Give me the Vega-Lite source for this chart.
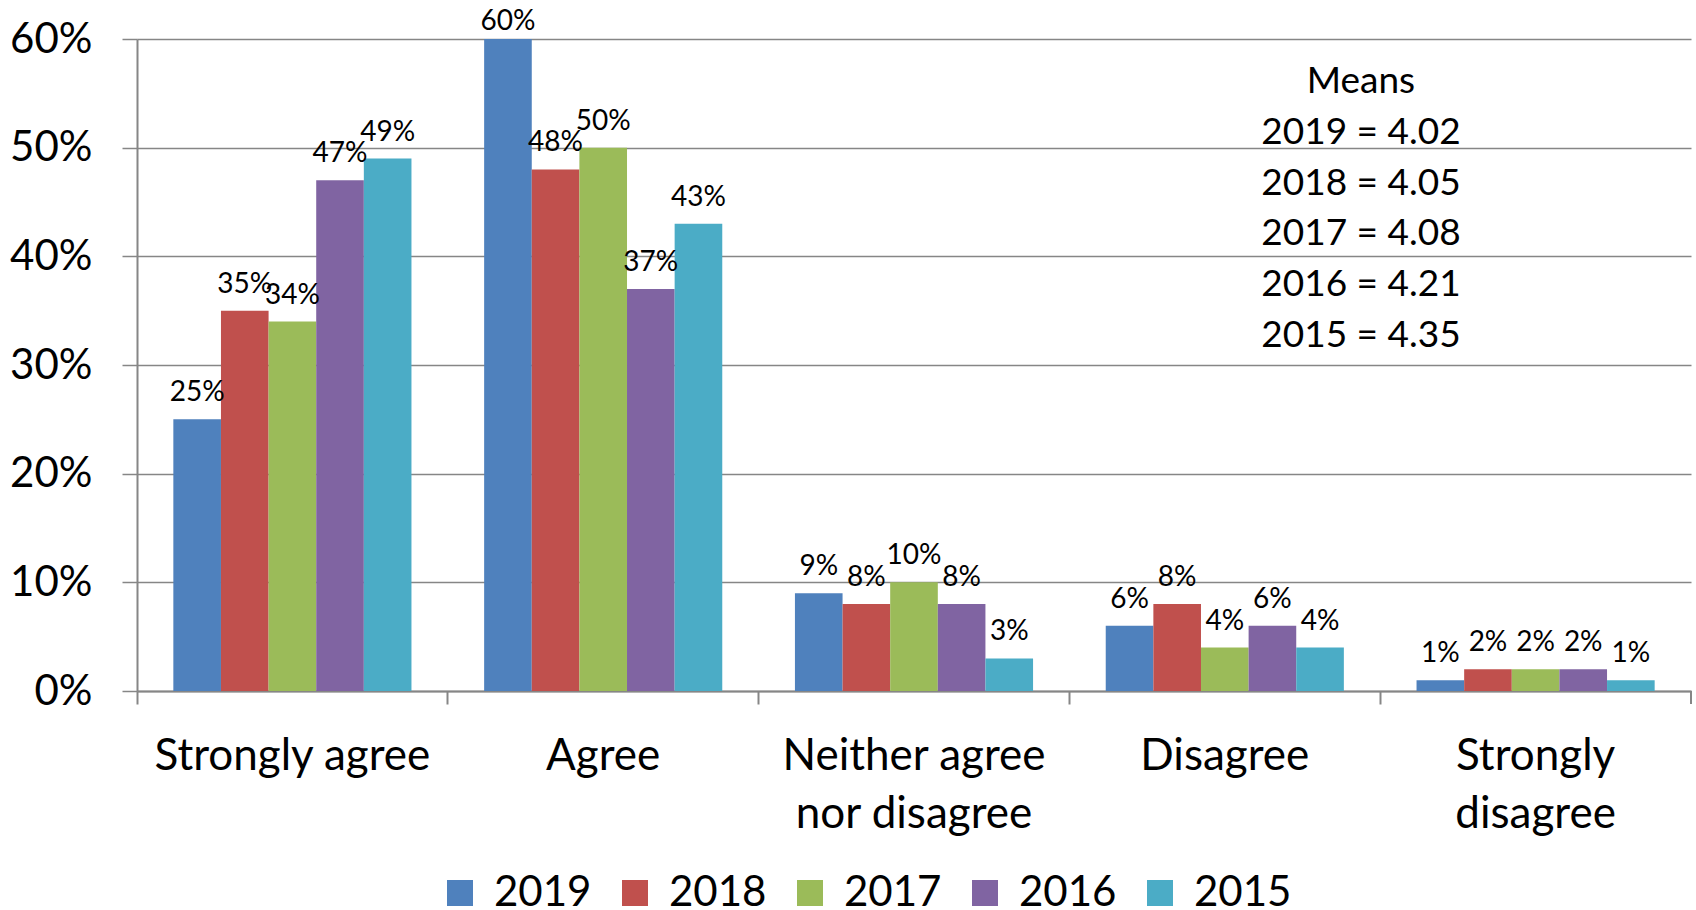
{
  "$schema": "https://vega.github.io/schema/vega-lite/v6.json",
  "width": 1554,
  "height": 652,
  "autosize": "none",
  "padding": {"left": 137, "top": 39, "right": 5, "bottom": 219},
  "background": "white",
  "config": {
    "font": "Lato",
    "view": {"stroke": null},
    "axis": {"labelColor": "black", "labelFont": "Lato"},
    "legend": {"labelColor": "black", "labelFont": "Lato"}
  },
  "layer": [
    {
      "data": {
        "values": [
          {"response": "Strongly agree", "year": "2019", "pct": 0.25},
          {"response": "Strongly agree", "year": "2018", "pct": 0.35},
          {"response": "Strongly agree", "year": "2017", "pct": 0.34},
          {"response": "Strongly agree", "year": "2016", "pct": 0.47},
          {"response": "Strongly agree", "year": "2015", "pct": 0.49},
          {"response": "Agree", "year": "2019", "pct": 0.60},
          {"response": "Agree", "year": "2018", "pct": 0.48},
          {"response": "Agree", "year": "2017", "pct": 0.50},
          {"response": "Agree", "year": "2016", "pct": 0.37},
          {"response": "Agree", "year": "2015", "pct": 0.43},
          {"response": "Neither agree nor disagree", "year": "2019", "pct": 0.09},
          {"response": "Neither agree nor disagree", "year": "2018", "pct": 0.08},
          {"response": "Neither agree nor disagree", "year": "2017", "pct": 0.10},
          {"response": "Neither agree nor disagree", "year": "2016", "pct": 0.08},
          {"response": "Neither agree nor disagree", "year": "2015", "pct": 0.03},
          {"response": "Disagree", "year": "2019", "pct": 0.06},
          {"response": "Disagree", "year": "2018", "pct": 0.08},
          {"response": "Disagree", "year": "2017", "pct": 0.04},
          {"response": "Disagree", "year": "2016", "pct": 0.06},
          {"response": "Disagree", "year": "2015", "pct": 0.04},
          {"response": "Strongly disagree", "year": "2019", "pct": 0.01},
          {"response": "Strongly disagree", "year": "2018", "pct": 0.02},
          {"response": "Strongly disagree", "year": "2017", "pct": 0.02},
          {"response": "Strongly disagree", "year": "2016", "pct": 0.02},
          {"response": "Strongly disagree", "year": "2015", "pct": 0.01}
        ]
      },
      "encoding": {
        "x": {
          "field": "response",
          "type": "nominal",
          "sort": ["Strongly agree", "Agree", "Neither agree nor disagree", "Disagree", "Strongly disagree"],
          "scale": {"paddingInner": 0, "paddingOuter": 0},
          "axis": {
            "title": null,
            "bandPosition": 0,
            "labelAngle": 0,
            "labelFontSize": 44,
            "labelPadding": 30,
            "labelLineHeight": 58,
            "labelLimit": 0,
            "labelOverlap": false,
            "labelBound": false,
            "labelExpr": "datum.label == 'Neither agree nor disagree' ? ['Neither agree', 'nor disagree'] : datum.label == 'Strongly disagree' ? ['Strongly', 'disagree'] : datum.label",
            "tickSize": 13,
            "tickColor": "#868686",
            "tickWidth": 2,
            "domainColor": "#868686",
            "domainWidth": 2
          }
        },
        "y": {
          "field": "pct",
          "type": "quantitative",
          "scale": {"domain": [0, 0.6], "nice": false},
          "axis": {
            "title": null,
            "format": ".0%",
            "values": [0, 0.1, 0.2, 0.3, 0.4, 0.5, 0.6],
            "grid": true,
            "gridColor": "#868686",
            "gridWidth": 1.5,
            "tickSize": 15,
            "tickColor": "#868686",
            "tickWidth": 1.5,
            "domainColor": "#868686",
            "domainWidth": 2,
            "labelFontSize": 42,
            "labelPadding": 30
          }
        }
      },
      "layer": [
        {
          "mark": {"type": "bar"},
          "encoding": {
            "xOffset": {
              "field": "year",
              "type": "nominal",
              "sort": ["2019", "2018", "2017", "2016", "2015"],
              "scale": {"paddingInner": 0, "paddingOuter": 0.763}
            },
            "color": {
              "field": "year",
              "type": "nominal",
              "scale": {
                "domain": ["2019", "2018", "2017", "2016", "2015"],
                "range": ["#4F81BD", "#C0504D", "#9BBB59", "#8064A2", "#4BACC6"]
              },
              "legend": {
                "title": null,
                "orient": "none",
                "legendX": 302,
                "legendY": 833,
                "direction": "horizontal",
                "symbolType": "square",
                "symbolSize": 676,
                "symbolStrokeWidth": 0,
                "symbolOpacity": 1,
                "labelFontSize": 42,
                "labelOffset": 13,
                "columnPadding": 22
              }
            }
          }
        },
        {
          "transform": [{"filter": "datum.pct < 0.55"}],
          "mark": {"type": "text", "baseline": "alphabetic", "dy": -18, "fontSize": 28, "color": "black"},
          "encoding": {
            "xOffset": {
              "field": "year",
              "type": "nominal",
              "sort": ["2019", "2018", "2017", "2016", "2015"],
              "scale": {"paddingInner": 0, "paddingOuter": 0.763}
            },
            "text": {"field": "pct", "type": "quantitative", "format": ".0%"}
          }
        },
        {
          "transform": [{"filter": "datum.pct >= 0.55"}],
          "mark": {"type": "text", "baseline": "alphabetic", "dy": -9, "fontSize": 28, "color": "black"},
          "encoding": {
            "xOffset": {
              "field": "year",
              "type": "nominal",
              "sort": ["2019", "2018", "2017", "2016", "2015"],
              "scale": {"paddingInner": 0, "paddingOuter": 0.763}
            },
            "text": {"field": "pct", "type": "quantitative", "format": ".0%"}
          }
        },
        {
          "transform": [{"filter": "datum.response == 'Strongly disagree' && datum.year == '2019'"}],
          "mark": {"type": "rule", "color": "#868686", "strokeWidth": 2},
          "encoding": {
            "x": {"datum": "Strongly disagree", "bandPosition": 1},
            "y": {"datum": 0},
            "y2": {"datum": -0.012}
          }
        }
      ]
    },
    {
      "data": {
        "values": [
          {"line": "Means", "label": "Means"},
          {"line": "2019", "label": "2019 = 4.02"},
          {"line": "2018", "label": "2018 = 4.05"},
          {"line": "2017", "label": "2017 = 4.08"},
          {"line": "2016", "label": "2016 = 4.21"},
          {"line": "2015", "label": "2015 = 4.35"}
        ]
      },
      "mark": {"type": "text", "fontSize": 37, "fontWeight": "normal", "baseline": "middle", "align": "center", "color": "black"},
      "encoding": {
        "x": {"datum": "Disagree", "bandPosition": 0.938},
        "y": {
          "field": "line",
          "type": "ordinal",
          "scale": {"type": "point", "domain": ["Means", "2019", "2018", "2017", "2016", "2015"], "range": [43, 297], "padding": 0},
          "axis": null
        },
        "text": {"field": "label"}
      }
    }
  ],
  "resolve": {"scale": {"y": "independent"}}
}
